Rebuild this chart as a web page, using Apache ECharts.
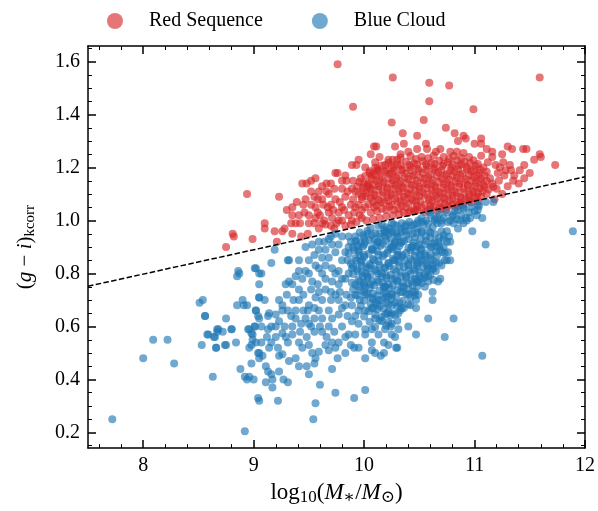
<!DOCTYPE html>
<html>
<head>
<meta charset="utf-8">
<script src="https://cdn.jsdelivr.net/npm/echarts@6/dist/echarts.min.js"></script>
<style>
  html, body { margin: 0; padding: 0; background: #fff; }
  #chart { width: 598px; height: 511px; }
</style>
</head>
<body>
<div id="chart"></div>
<script>
// ticks
var xMajor = [8, 9, 10, 11, 12];
var xMinor = [7.6, 7.8, 8.2, 8.4, 8.6, 8.8, 9.2, 9.4, 9.6, 9.8, 10.2, 10.4, 10.6, 10.8, 11.2, 11.4, 11.6, 11.8];
var yMajor = [0.2, 0.4, 0.6, 0.8, 1.0, 1.2, 1.4, 1.6];
var yMinor = [0.15, 0.25, 0.3, 0.35, 0.45, 0.5, 0.55, 0.65, 0.7, 0.75, 0.85, 0.9, 0.95,
              1.05, 1.1, 1.15, 1.25, 1.3, 1.35, 1.45, 1.5, 1.55, 1.65];

// dividing line (ends at the axis limits)
var divider = [[7.5, 0.752], [12, 1.165]];

// red sequence: outliers and sparse edge
var redSparse = [
  [9.76,1.59],[10.26,1.54],[9.90,1.43],[10.25,1.37],[10.59,1.52],[10.77,1.51],[11.59,1.54],[10.59,1.45],
  [10.99,1.42],[10.54,1.38],[10.74,1.35],[10.35,1.33],[10.82,1.33],[10.85,1.30],[10.90,1.32],[10.92,1.31],
  [11.06,1.31],[11.00,1.29],[11.06,1.29],[10.48,1.32],[10.56,1.29],[10.57,1.27],[10.28,1.28],[10.36,1.29],
  [10.33,1.25],[10.48,1.27],[10.69,1.27],[10.78,1.26],[10.84,1.26],[11.30,1.28],[11.34,1.27],[11.44,1.27],
  [11.47,1.27],[11.54,1.23],[11.59,1.25],[11.60,1.24],[11.73,1.21],[11.11,1.27],[11.16,1.26],[11.25,1.25],
  [11.26,1.22],[11.19,1.21],[11.21,1.18],[11.32,1.21],[11.33,1.19],[11.36,1.17],[11.41,1.19],[11.45,1.21],
  [8.94,1.10],[9.23,1.09],[8.81,0.95],[8.82,0.94],[8.75,0.90],[8.99,0.93],[9.10,0.99],[9.10,0.97],
  [9.19,0.96],[9.26,0.96],[9.28,0.97],[9.21,0.92],[9.30,1.04],[9.35,1.05],[9.39,1.07],[9.35,1.02],
  [9.41,1.02],[9.45,1.06],[9.46,1.03],[9.34,0.99],[9.38,0.99],[9.42,0.99],[9.35,0.95],[9.43,0.94],
  [9.49,0.95],[9.44,1.14],[9.48,1.14],[9.52,1.15],[9.56,1.16],[9.66,1.14],[9.74,1.18],[9.76,1.18],
  [9.89,1.21],[9.93,1.21],[9.95,1.23],[10.09,1.28],[10.11,1.28],[10.06,1.25],[10.14,1.24],[10.22,1.23],
  [10.30,1.23],[9.83,1.17],[9.84,1.15],[9.89,1.12]
];
// red sequence: left part of the clump
var redMid = [
  [9.55,1.09],[9.59,1.11],[9.56,1.05],[9.62,1.08],[9.67,1.05],[9.68,1.10],[9.73,1.12],[9.74,1.08],
  [9.77,1.03],[9.56,1.01],[9.64,1.00],[9.71,1.01],[9.80,1.05],[9.83,1.09],[9.88,1.06],[9.91,1.03],
  [9.92,1.11],[9.98,1.09],[10.01,1.05],[9.98,1.01],[10.04,1.13],[10.07,1.17],[10.01,1.20],[10.13,1.19],
  [10.10,1.22],[10.19,1.21],[10.25,1.18],[9.50,0.99],[9.77,1.00],[9.83,0.98],[9.89,1.00],[9.59,0.97],
  [9.70,0.98],[9.62,1.13],[9.70,1.06],[9.80,1.12],[9.86,1.02],[9.93,0.995],[9.95,1.06],[9.60,1.02],
  [9.65,0.985],[9.75,0.99],[9.52,1.06],[9.58,1.08],
  [9.58,1.03],[9.63,1.06],[9.68,1.03],[9.72,1.04],[9.78,1.07],[9.82,1.04],[9.85,1.11],[9.90,1.08],
  [9.94,1.13],[9.97,1.16],[9.90,1.15],[9.80,1.15],[9.70,1.14],[9.66,1.11],[9.52,1.11],[9.47,1.08],
  [9.50,1.02],[9.55,0.99],[9.62,0.99],[9.73,0.97],[9.80,1.00],[9.88,0.985],[9.96,1.02],[10.00,1.14],
  [10.05,1.18],[10.10,1.20]
];
// red sequence: dense core
var redCore = [
  [10.31,1.045],[10.38,1.05],[10.45,1.042],[10.52,1.048],[10.58,1.038],[10.63,1.052],[10.70,1.045],[10.76,1.055],
  [10.83,1.05],[10.90,1.06],[10.97,1.068],[10.55,1.032],[10.66,1.036],
  [10.04,1.062],[10.11,1.058],[10.18,1.066],[10.25,1.06],[10.33,1.07],[10.40,1.063],[10.47,1.068],[10.55,1.06],
  [10.62,1.072],[10.69,1.066],[10.77,1.074],[10.84,1.07],[10.92,1.078],[11.00,1.085],[11.06,1.09],
  [9.98,1.08],[10.06,1.085],[10.13,1.078],[10.21,1.088],[10.28,1.082],[10.36,1.09],[10.43,1.084],[10.50,1.092],
  [10.58,1.086],[10.65,1.094],[10.72,1.088],[10.80,1.096],[10.87,1.09],[10.95,1.10],[11.03,1.104],[11.11,1.10],
  [9.95,1.10],[10.02,1.104],[10.09,1.098],[10.17,1.108],[10.24,1.102],[10.31,1.11],[10.39,1.104],[10.46,1.112],
  [10.53,1.106],[10.61,1.114],[10.68,1.108],[10.75,1.116],[10.82,1.11],[10.90,1.12],[10.98,1.114],[11.05,1.122],
  [11.13,1.118],
  [9.99,1.124],[10.06,1.12],[10.13,1.13],[10.21,1.124],[10.28,1.132],[10.35,1.126],[10.43,1.134],[10.50,1.128],
  [10.57,1.136],[10.64,1.13],[10.72,1.138],[10.79,1.132],[10.86,1.14],[10.94,1.134],[11.01,1.142],[11.08,1.136],
  [11.16,1.14],
  [9.96,1.146],[10.04,1.142],[10.11,1.15],[10.18,1.144],[10.26,1.152],[10.33,1.148],[10.40,1.156],[10.48,1.15],
  [10.55,1.158],[10.62,1.152],[10.70,1.16],[10.77,1.154],[10.84,1.162],[10.92,1.156],[10.99,1.164],[11.06,1.158],
  [11.14,1.16],
  [10.01,1.168],[10.09,1.174],[10.16,1.166],[10.23,1.176],[10.31,1.17],[10.38,1.178],[10.45,1.172],[10.53,1.18],
  [10.60,1.174],[10.67,1.182],[10.75,1.176],[10.82,1.184],[10.89,1.178],[10.97,1.186],[11.04,1.18],[11.11,1.184],
  [10.12,1.196],[10.20,1.19],[10.27,1.20],[10.35,1.194],[10.42,1.202],[10.49,1.196],[10.57,1.204],[10.64,1.198],
  [10.71,1.206],[10.79,1.20],[10.86,1.208],[10.93,1.202],[11.01,1.206],[11.08,1.20],
  [10.22,1.218],[10.30,1.212],[10.38,1.222],[10.45,1.216],[10.53,1.224],[10.61,1.218],[10.68,1.226],[10.76,1.22],
  [10.84,1.228],[10.91,1.222],[10.99,1.228],
  [10.33,1.238],[10.42,1.244],[10.52,1.24],[10.63,1.246],[10.72,1.24],[10.81,1.244],[10.95,1.24],
  [11.20,1.12],[11.22,1.15],[11.27,1.17],[11.18,1.08],[11.25,1.10],[11.30,1.13],[11.35,1.15],[11.28,1.19],
  [11.40,1.14],[11.45,1.16],[11.50,1.18],[11.23,1.20],[11.12,1.22],[11.16,1.24],[11.06,1.245],[10.90,1.255],
  [10.65,1.26],[10.40,1.26]
];
// red sequence: points between the core rows
var redFill = [
  [10.02,1.00],[10.08,1.005],[10.14,1.01],[10.20,1.015],[10.26,1.02],[10.12,1.035],[10.20,1.04],[10.27,1.04],
  [10.36,1.03],[10.42,1.035],[10.06,1.03],[9.98,1.04],[9.92,1.05],[10.48,1.04],
  [10.08,1.072],[10.22,1.075],[10.37,1.078],[10.51,1.074],[10.66,1.08],[10.80,1.082],[10.95,1.088],
  [10.02,1.092],[10.17,1.095],[10.32,1.098],[10.47,1.096],[10.62,1.10],[10.76,1.102],[10.91,1.106],[11.07,1.11],
  [9.99,1.112],[10.13,1.116],[10.28,1.12],[10.42,1.118],[10.57,1.122],[10.72,1.124],[10.86,1.128],[11.01,1.13],
  [11.17,1.128],
  [10.03,1.134],[10.17,1.138],[10.32,1.14],[10.46,1.138],[10.61,1.142],[10.75,1.146],[10.90,1.148],[11.04,1.15],
  [10.07,1.158],[10.22,1.16],[10.37,1.164],[10.51,1.162],[10.66,1.168],[10.80,1.17],[10.95,1.172],[11.09,1.17],
  [10.05,1.186],[10.19,1.184],[10.34,1.19],[10.49,1.188],[10.63,1.192],[10.78,1.19],[10.93,1.194],[11.05,1.192],
  [10.16,1.208],[10.33,1.21],[10.48,1.212],[10.64,1.214],[10.80,1.212],[10.96,1.216],
  [10.26,1.23],[10.47,1.232],[10.58,1.235],[10.77,1.232],[10.88,1.236],
  [10.15,1.07],[10.30,1.072],[10.44,1.076],[10.59,1.078],[10.73,1.082],[10.88,1.084],[11.02,1.09],
  [10.10,1.094],[10.25,1.096],[10.40,1.10],[10.55,1.098],[10.69,1.102],[10.84,1.104],[10.99,1.108],
  [10.06,1.116],[10.21,1.118],[10.35,1.122],[10.50,1.12],[10.65,1.124],[10.79,1.126],[10.94,1.13],[11.09,1.128],
  [10.10,1.136],[10.25,1.14],[10.39,1.142],[10.54,1.14],[10.68,1.146],[10.83,1.148],[10.97,1.15],[11.11,1.148],
  [10.14,1.16],[10.29,1.162],[10.44,1.166],[10.58,1.164],[10.73,1.17],[10.87,1.172],[11.02,1.17],
  [10.12,1.186],[10.27,1.188],[10.42,1.19],[10.56,1.192],[10.70,1.19],[10.85,1.194],[10.99,1.192],
  [10.25,1.208],[10.41,1.21],[10.56,1.212],[10.72,1.214],[10.88,1.212],[11.03,1.214],
  [10.09,1.05],[10.23,1.052],[10.16,1.045],[10.34,1.055],[10.48,1.056],[10.60,1.056],[10.73,1.062],[10.87,1.066],
  [10.95,1.075],[11.03,1.072],
  [10.32,1.025],[10.40,1.03],[10.46,1.035],[10.60,1.045],[10.68,1.05],[10.74,1.04],[10.80,1.06],[10.86,1.058]
];

// blue cloud: sparse low-mass and low-colour points
var blueSparse = [
  [7.72,0.25],[8.00,0.48],[8.09,0.55],[8.22,0.55],[8.28,0.46],[8.51,0.69],[8.56,0.64],[8.58,0.57],
  [8.53,0.53],[8.64,0.56],[8.66,0.52],[8.67,0.59],[8.67,0.58],[8.72,0.58],[8.75,0.63],[8.80,0.59],
  [8.74,0.53],[8.84,0.54],[8.85,0.68],[8.90,0.70],[8.91,0.68],[8.94,0.68],[8.86,0.81],[8.85,0.79],
  [9.02,0.82],[9.05,0.80],[8.92,0.205],[8.63,0.41],[8.98,0.46],[8.92,0.41],[8.94,0.40],[8.96,0.41],
  [9.00,0.40],[9.04,0.33],[8.88,0.44],[8.95,0.59],[8.98,0.575],[8.99,0.57],[9.02,0.54],[9.01,0.60],
  [9.05,0.63],[9.05,0.71],[9.05,0.76],[9.02,0.66],[9.04,0.50],[9.05,0.48],
  [9.54,0.25],[9.56,0.31],[9.05,0.32],[9.22,0.32],[9.74,0.35],[9.91,0.33],[10.01,0.36],[9.60,0.38],
  [9.11,0.45],[9.13,0.43],[9.16,0.42],[9.17,0.40],[9.27,0.40],[9.31,0.39],[9.23,0.43],[9.17,0.37],
  [9.11,0.39],[9.41,0.45],[9.48,0.45],[9.50,0.42],[9.55,0.46],[9.56,0.48],[9.71,0.44],[9.76,0.48],
  [9.83,0.50],[9.91,0.52],[9.95,0.52],[10.01,0.48],[10.07,0.51],[10.15,0.49],[10.10,0.50],
  [11.89,0.96],[11.10,0.91],[11.07,0.49],[10.98,0.96],[11.07,1.01],[11.17,1.07],[11.10,1.07],[11.03,1.06],
  [10.29,0.52],[10.30,0.52],[10.18,0.50],[10.25,0.57],[10.47,0.57],[10.58,0.63],[10.81,0.63],[10.73,0.56],
  [10.40,0.60],[10.31,0.59],[10.24,0.60],[10.16,0.62],[10.21,0.65],[10.25,0.65],[10.31,0.65],[10.34,0.67],
  [10.33,0.73],[10.42,0.68],[10.47,0.67],[10.47,0.70],[10.49,0.72],[10.46,0.73],[10.62,0.73],[10.62,0.70]
];
// blue cloud: middle of the cloud
var blueMid = [
  [9.38,0.48],[9.32,0.47],[9.26,0.495],[9.23,0.49],[9.22,0.52],[9.08,0.49],[9.05,0.50],[8.96,0.52],
  [8.99,0.55],[9.07,0.54],[9.16,0.54],[9.14,0.52],[9.31,0.54],[9.29,0.56],[9.26,0.575],[9.20,0.56],
  [9.35,0.57],[9.41,0.54],[9.44,0.52],[9.50,0.53],[9.53,0.50],[9.59,0.505],[9.65,0.53],[9.68,0.51],
  [9.74,0.52],[9.71,0.54],[9.77,0.54],[9.83,0.56],[9.88,0.53],[9.92,0.57],[10.01,0.57],[10.07,0.54],
  [8.56,0.64],[8.54,0.70],[8.59,0.57],[8.65,0.56],[8.68,0.59],[8.75,0.53],[8.80,0.59],[8.66,0.52],
  [8.87,0.80],[9.01,0.82],[9.07,0.80],[9.16,0.84],[9.19,0.89],[9.32,0.85],[9.31,0.85],
  [9.02,0.66],[9.04,0.64],[9.05,0.71],[9.10,0.70],[9.14,0.65],[9.13,0.64],[9.23,0.70],[9.20,0.645],
  [9.26,0.66],[9.31,0.66],[9.07,0.60],[9.01,0.60],[8.96,0.59],[8.98,0.53],[9.13,0.59],[9.16,0.60],
  [9.23,0.62],[9.34,0.64],[9.38,0.63],[9.35,0.60],[9.41,0.70],[9.38,0.66],[9.41,0.74],[9.49,0.66],
  [9.50,0.68],[9.55,0.67],[9.59,0.66],[9.55,0.63],[9.47,0.63],[9.43,0.61],[9.50,0.61],[9.55,0.58],
  [9.62,0.58],[9.68,0.60],[9.71,0.63],[9.77,0.645],[9.80,0.67],[9.83,0.68],[9.77,0.70],[9.74,0.72],
  [9.70,0.73],[9.65,0.74],[9.59,0.73],[9.53,0.77],[9.47,0.81],[9.41,0.81],[9.35,0.76],[9.32,0.77],
  [9.29,0.76],[9.38,0.79],[9.41,0.85],[9.50,0.85],[9.55,0.87],[9.59,0.89],[9.65,0.89],[9.64,0.92],
  [9.71,0.91],[9.77,0.91],[9.83,0.88],[9.85,0.85],[9.89,0.82],[9.77,0.81],[9.71,0.82],[9.65,0.83],
  [9.59,0.82],[9.65,0.78],[9.71,0.77],[9.77,0.76],[9.83,0.78],[9.89,0.765],[9.95,0.75],[10.00,0.76],
  [10.01,0.72],[9.92,0.72],[9.88,0.71],[9.89,0.68],[9.95,0.66],[10.01,0.66],[10.07,0.67],[10.13,0.70],
  [10.19,0.71],[10.25,0.68],[10.19,0.645],[10.10,0.63],[10.07,0.59],[10.01,0.59],[9.95,0.61],[9.89,0.62],
  [10.13,0.57],[10.19,0.59],[10.25,0.61],[10.28,0.56],[10.22,0.53],[10.18,0.54],
  [9.98,0.85],[10.04,0.82],[10.07,0.89],[10.13,0.92],[10.19,0.94],[10.25,0.96],[10.01,0.92],[9.95,0.89],
  [9.92,0.92],[9.86,0.94],[9.80,0.94],[9.74,0.95],[9.68,0.93],[9.59,0.92],[9.53,0.91],[9.47,0.90],
  [10.01,0.80],[10.07,0.77],[10.13,0.80],[10.19,0.82],[10.25,0.78],[10.28,0.85],[10.19,0.75],[10.25,0.72],
  [10.28,0.645],[10.22,0.89],[10.28,0.92],
  [9.45,0.72],[9.52,0.74],[9.58,0.76],[9.62,0.80],[9.68,0.86],[9.74,0.88],[9.80,0.85],[9.86,0.90],
  [9.80,0.78],[9.86,0.80],[9.74,0.80],[9.70,0.70],[9.62,0.70],[9.56,0.71],[9.45,0.66],[9.42,0.58],
  [9.48,0.56],[9.60,0.60],[9.66,0.56],[9.73,0.58],[9.80,0.60],[9.85,0.64],[9.86,0.57],[9.92,0.64],
  [9.96,0.70],[9.90,0.74],[9.84,0.72],[9.78,0.73],[9.68,0.66],[9.62,0.63],[9.52,0.60],[9.36,0.70],
  [9.30,0.72],[9.26,0.68],[9.20,0.60],[9.28,0.60],[9.12,0.56],[9.44,0.78],[9.50,0.80],[9.56,0.83],
  [9.62,0.86],[9.70,0.94]
];
// blue cloud: dense part just under the divider
var blueCore = [
  [10.52,1.01],[10.60,1.02],[10.68,1.025],[10.75,1.03],[10.82,1.035],[10.90,1.045],[10.97,1.05],[11.04,1.055],
  [10.56,1.00],[10.64,1.005],[10.72,1.01],[10.80,1.015],[10.88,1.02],[10.95,1.03],
  [10.85,1.04],[10.90,1.05],[10.81,1.02],[10.92,1.01],[10.90,0.99],[10.85,0.97],[10.81,0.99],[10.75,0.96],
  [10.77,0.94],[10.75,0.92],[10.78,0.92],[10.72,0.93],[10.67,0.92],[10.72,0.90],[10.66,0.90],[10.71,0.88],
  [10.76,0.88],[10.75,0.85],[10.78,0.85],[10.73,0.85],[10.68,0.84],[10.65,0.81],[10.63,0.82],[10.58,0.82],
  [10.69,0.78],[10.67,0.77],[10.58,0.79],[10.52,0.78],[10.49,0.77],[10.46,0.78],[10.43,0.77],[10.55,0.75],
  [10.52,0.96],[10.58,0.99],[10.64,1.00],[10.70,1.00],[10.60,1.03],[10.66,1.01],[10.49,1.00],[10.43,0.98],
  [10.37,0.96],[10.34,0.92],[10.25,0.90],[10.31,0.87],[10.22,0.84],[10.37,0.85],[10.43,0.90],[10.52,0.89],
  [10.19,0.96],[10.25,0.99],[10.31,0.94],[10.40,0.81],[10.28,0.78],[10.19,0.75],[10.34,0.75],[10.16,0.70],
  [10.55,0.85],[10.61,0.90],[10.49,0.84],
  [10.06,0.972],[10.13,0.98],[10.20,0.975],[10.27,0.985],[10.34,0.99],[10.41,0.995],[10.48,0.99],[10.62,0.975],
  [9.96,0.955],[10.03,0.962],[10.10,0.952],[10.18,0.965],[10.26,0.958],[10.33,0.968],[10.41,0.962],[10.48,0.97],
  [10.60,0.955],[10.70,0.96],
  [9.92,0.94],[10.00,0.935],[10.07,0.945],[10.15,0.938],[10.22,0.948],[10.30,0.94],[10.38,0.944],[10.46,0.936],
  [10.56,0.94],[10.68,0.935],
  [9.88,0.92],[9.97,0.915],[10.05,0.925],[10.12,0.918],[10.20,0.924],[10.28,0.914],[10.36,0.922],[10.45,0.916],
  [10.56,0.924],[10.64,0.918],
  [9.90,0.898],[9.99,0.902],[10.07,0.895],[10.15,0.905],[10.24,0.898],[10.32,0.904],[10.40,0.896],[10.48,0.902],
  [10.60,0.90],
  [9.86,0.876],[9.95,0.882],[10.04,0.875],[10.12,0.884],[10.21,0.878],[10.30,0.885],[10.38,0.878],[10.46,0.884],
  [10.55,0.876],[10.65,0.882],[10.73,0.878],
  [9.92,0.858],[10.00,0.862],[10.08,0.855],[10.17,0.864],[10.26,0.856],[10.34,0.862],[10.42,0.856],[10.50,0.864],
  [10.60,0.858],
  [9.88,0.838],[9.97,0.844],[10.05,0.836],[10.13,0.845],[10.22,0.838],[10.31,0.844],[10.40,0.836],[10.48,0.842],
  [10.56,0.836],[10.65,0.842],
  [9.94,0.818],[10.02,0.824],[10.10,0.816],[10.18,0.822],[10.27,0.816],[10.36,0.824],[10.45,0.818],[10.53,0.824],
  [10.62,0.816],
  [9.90,0.798],[9.98,0.804],[10.06,0.796],[10.16,0.802],[10.24,0.795],[10.33,0.804],[10.42,0.798],[10.50,0.805],
  [9.95,0.778],[10.03,0.784],[10.12,0.776],[10.20,0.783],[10.30,0.775],[10.38,0.784],[10.47,0.778],[10.55,0.784],
  [10.63,0.776],
  [9.92,0.758],[10.00,0.764],[10.09,0.756],[10.17,0.763],[10.26,0.755],[10.35,0.762],[10.44,0.756],[10.52,0.764],
  [9.97,0.738],[10.05,0.744],[10.14,0.736],[10.23,0.745],[10.30,0.738],[10.40,0.742],
  [9.94,0.718],[10.03,0.724],[10.12,0.716],[10.20,0.722],[10.29,0.716],[10.38,0.724],[10.46,0.718],
  [10.00,0.698],[10.08,0.704],[10.25,0.703],[10.35,0.697],
  [9.97,0.678],[10.06,0.684],[10.14,0.676],[10.22,0.683],[10.30,0.676],[10.40,0.684],
  [10.04,0.658],[10.12,0.664],[10.22,0.656],[10.33,0.662],
  [10.00,0.638],[10.10,0.644],[10.16,0.636],[10.24,0.642],
  [10.05,0.618],[10.14,0.624],[10.22,0.616],[10.30,0.622],
  [10.10,0.598],[10.20,0.604]
];
// blue cloud: points between the core rows
var blueFill = [
  [10.16,0.985],[10.23,0.97],[10.37,0.978],[10.45,0.985],[10.54,0.985],[10.66,0.99],[10.76,0.995],[10.84,1.005],
  [10.93,1.00],[11.00,1.035],[11.02,1.02],
  [9.99,0.945],[10.14,0.95],[10.29,0.952],[10.44,0.95],[10.52,0.955],[10.64,0.948],
  [9.93,0.925],[10.09,0.93],[10.24,0.932],[10.40,0.93],[10.51,0.93],[10.60,0.935],[10.72,0.945],
  [9.94,0.905],[10.11,0.908],[10.27,0.91],[10.44,0.905],[10.55,0.91],[10.68,0.905],
  [9.91,0.888],[10.08,0.89],[10.26,0.892],[10.42,0.888],[10.51,0.892],[10.69,0.89],
  [9.96,0.866],[10.13,0.87],[10.30,0.868],[10.46,0.866],[10.56,0.866],[10.66,0.868],
  [9.93,0.848],[10.09,0.85],[10.27,0.85],[10.44,0.848],[10.52,0.85],[10.62,0.85],
  [9.90,0.828],[10.06,0.83],[10.23,0.828],[10.40,0.83],[10.58,0.828],[10.70,0.83],
  [9.94,0.81],[10.11,0.81],[10.29,0.808],[10.46,0.812],[10.57,0.81],
  [9.99,0.79],[10.16,0.79],[10.34,0.79],[10.50,0.792],[10.60,0.795],
  [9.96,0.77],[10.13,0.768],[10.30,0.77],[10.48,0.768],[10.58,0.77],
  [10.01,0.75],[10.18,0.748],[10.36,0.75],[10.48,0.75],
  [10.00,0.73],[10.18,0.728],[10.35,0.73],[10.44,0.73],
  [10.06,0.71],[10.22,0.712],[10.42,0.71],
  [10.10,0.69],[10.20,0.69],[10.28,0.69],
  [10.08,0.67],[10.18,0.668],[10.36,0.67],
  [10.03,0.95],[10.19,0.955],[10.34,0.958],[10.48,0.955],[10.58,0.962],
  [10.00,0.91],[10.17,0.912],[10.33,0.915],[10.50,0.91],[10.62,0.912],
  [10.00,0.87],[10.18,0.872],[10.35,0.87],[10.51,0.87],[10.60,0.872],
  [9.98,0.83],[10.14,0.832],[10.32,0.83],[10.48,0.83],[10.62,0.832],
  [10.03,0.79],[10.20,0.792],[10.38,0.79],[10.55,0.795],
  [10.06,0.76],[10.22,0.76],[10.40,0.762],
  [10.08,0.725],[10.25,0.725],[10.40,0.72],
  [10.12,0.685],[10.32,0.69],
  [10.30,0.98],[10.38,0.985],[10.52,0.995],[10.70,0.99],[10.78,1.00],[10.87,1.00],[10.96,1.01],[11.03,1.04]
];

var redPoints = redSparse.concat(redMid, redCore, redFill);
var bluePoints = blueSparse.concat(blueMid, blueCore, blueFill);

var serif = "'Liberation Serif', 'DejaVu Serif', serif";
var black = '#000';

function axisPair(kind, pos, major, minor, withLabel) {
  var base = {
    type: 'value', gridIndex: 0, position: pos,
    min: kind === 'x' ? 7.5 : 0.141,
    max: kind === 'x' ? 12 : 1.659,
    splitLine: { show: false },
    axisLine: { show: true, onZero: false, lineStyle: { color: black, width: 1.5 } },
    axisTick: { show: true, inside: true, length: 8, customValues: major, lineStyle: { color: black, width: 1.5 } },
    axisLabel: withLabel ? {
      customValues: major, color: black, fontSize: 20, fontFamily: serif,
      margin: 8,
      align: kind === 'x' ? 'center' : 'right',
      verticalAlign: kind === 'x' ? 'top' : 'middle',
      formatter: function (v) { return kind === 'x' ? String(Math.round(v)) : v.toFixed(1); }
    } : { show: false }
  };
  var mini = {
    type: 'value', gridIndex: 0, position: pos,
    min: base.min, max: base.max,
    splitLine: { show: false },
    axisLine: { show: false, onZero: false },
    axisTick: { show: true, inside: true, length: 4, customValues: minor, lineStyle: { color: black, width: 1 } },
    axisLabel: { show: false }
  };
  return [base, mini];
}

var xs = axisPair('x', 'bottom', xMajor, xMinor, true).concat(axisPair('x', 'top', xMajor, xMinor, false));
var ys = axisPair('y', 'left', yMajor, yMinor, true).concat(axisPair('y', 'right', yMajor, yMinor, false));

xs[0].name = '{t|log}{s|10}{t|(}{i|M}{s|∗}{t|/}{i|M}{s|⊙}{t|)}';
xs[0].nameLocation = 'middle';
xs[0].nameGap = 26;
xs[0].nameTextStyle = {
  color: black,
  rich: {
    t: { fontSize: 23, fontFamily: serif, color: black },
    i: { fontSize: 23, fontFamily: serif, fontStyle: 'italic', color: black },
    s: { fontSize: 17, fontFamily: serif, color: black, padding: [10, 0, 0, 0] }
  }
};
ys[0].name = '{t|(}{i|g}{t| − }{i|i}{t|)}{s|kcorr}';
ys[0].nameLocation = 'middle';
ys[0].nameGap = 50;
ys[0].nameRotate = 90;
ys[0].nameTextStyle = {
  color: black,
  rich: {
    t: { fontSize: 21, fontFamily: serif, color: black },
    i: { fontSize: 21, fontFamily: serif, fontStyle: 'italic', color: black },
    s: { fontSize: 15, fontFamily: serif, color: black, padding: [10, 0, 0, 0] }
  }
};

var myChart = echarts.init(document.getElementById('chart'), null, { renderer: 'canvas' });

var option = {
  animation: false,
  backgroundColor: '#fff',
  grid: { left: 88, right: 10.5, top: 46, bottom: 60, containLabel: false },
  legend: {
    top: 6, left: 102,
    icon: 'circle', itemWidth: 16, itemHeight: 16, itemGap: 49,
    textStyle: { fontSize: 20, fontFamily: serif, color: black, padding: [0, 0, 0, 21] },
    data: ['Red Sequence', 'Blue Cloud']
  },
  xAxis: xs,
  yAxis: ys,
  series: [
    {
      name: 'Red Sequence', type: 'scatter', xAxisIndex: 0, yAxisIndex: 0,
      symbol: 'circle', symbolSize: 8, data: redPoints, z: 2,
      itemStyle: { color: 'rgba(214,39,40,0.8)' }
    },
    {
      name: 'Blue Cloud', type: 'scatter', xAxisIndex: 0, yAxisIndex: 0,
      symbol: 'circle', symbolSize: 8, data: bluePoints, z: 3,
      itemStyle: { color: 'rgba(31,119,180,0.8)' }
    },
    {
      name: 'divider', type: 'line', xAxisIndex: 0, yAxisIndex: 0,
      data: divider, symbol: 'none', silent: true, z: 4,
      lineStyle: { color: black, width: 1.5, type: [5.5, 2.4] }
    }
  ]
};

myChart.setOption(option);
</script>
</body>
</html>
